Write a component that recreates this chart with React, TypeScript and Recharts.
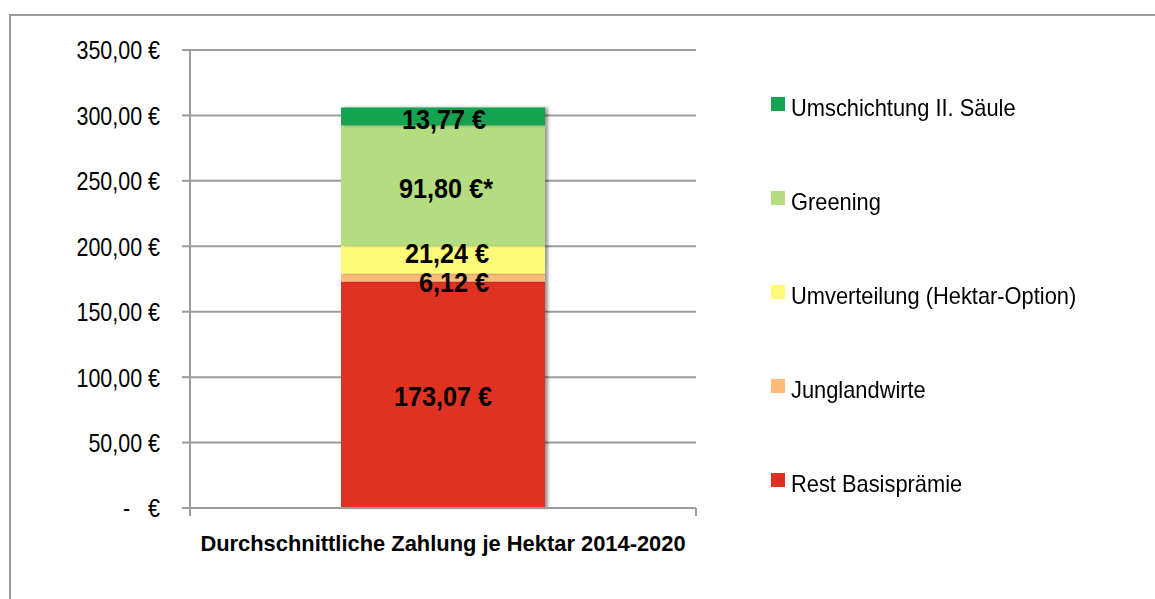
import React from "react";
import {
  BarChart,
  Bar,
  XAxis,
  YAxis,
  CartesianGrid,
  Legend,
  LabelList,
} from "recharts";

// Kategorien, Reihen und Werte
const categories = ["Durchschnittliche Zahlung je Hektar 2014-2020"];
const seriesNames = [
  "Rest Basisprämie",
  "Junglandwirte",
  "Umverteilung (Hektar-Option)",
  "Greening",
  "Umschichtung II. Säule",
];
const seriesValues = [173.07, 6.12, 21.24, 91.8, 13.77];
const seriesColors = ["#e03022", "#fdbb77", "#fefb79", "#b4dc80", "#16a351"];
const labelSuffix = ["", "", "", "*", ""];
const yTicks = [0, 50, 100, 150, 200, 250, 300, 350];

const data = categories.map((name) => {
  const row: Record<string, string | number> = { name };
  seriesNames.forEach((s, i) => {
    row["s" + i] = seriesValues[i];
  });
  return row;
});

const FONT = "'Liberation Sans', Arial, sans-serif";
const GRID = "#9c9c9c";
const X_TICK_MARGIN = 27;

// kleine Verschiebungen der Beschriftungen wie im Original
const labelShiftY = [1, 4, -7, 2, 2];
const labelShiftX = [0, 11, 4, 3, 1];

const euro = (v: number) => v.toFixed(2).replace(".", ",") + " €";
const yTickFormat = (v: number) => (v === 0 ? "-\u00a0\u00a0\u00a0€" : euro(v));

// schmale Schrift (wie Arial Narrow) durch horizontale Stauchung
const YTick = (props: any) => {
  const { x, y, payload } = props;
  return (
    <g transform={`translate(${x},${y}) scale(0.81,1)`}>
      <text x={0} y={0} dy="0.355em" textAnchor="end" fontFamily={FONT} fontSize={26.5} fill="#000">
        {yTickFormat(payload.value)}
      </text>
    </g>
  );
};

const XTick = (props: any) => {
  const { x, y, payload } = props;
  const half = payload.offset ?? 253;
  const axisY = y - X_TICK_MARGIN;
  return (
    <g>
      <line x1={x - half} x2={x - half} y1={axisY} y2={axisY + 8} stroke={GRID} strokeWidth={2} />
      <line x1={x + half} x2={x + half} y1={axisY} y2={axisY + 8} stroke={GRID} strokeWidth={2} />
      <g transform={`translate(${x},${y}) scale(0.995,1)`}>
        <text x={0} y={0} dy="0.71em" textAnchor="middle" fontFamily={FONT} fontWeight="bold" fontSize={22} fill="#000">
          {payload.value}
        </text>
      </g>
    </g>
  );
};

const makeLabel = (i: number) => (props: any) => {
  const { x, y, width, height, value } = props;
  const cx = Number(x) + Number(width) / 2 + labelShiftX[i];
  const cy = Number(y) + Number(height) / 2 + labelShiftY[i];
  return (
    <g transform={`translate(${cx},${cy}) scale(0.885,1)`}>
      <text
        x={0}
        y={0}
        dy="0.355em"
        textAnchor="middle"
        fontFamily={FONT}
        fontWeight="bold"
        fontSize={28.5}
        fill="#000"
      >
        {euro(Number(value)) + labelSuffix[i]}
      </text>
    </g>
  );
};

const LegendBox = () => (
  <div style={{ fontFamily: FONT, fontSize: 24, lineHeight: 1, color: "#000" }}>
    {seriesNames
      .map((n, i) => ({ n, c: seriesColors[i] }))
      .reverse()
      .map((it) => (
        <div key={it.n} style={{ display: "flex", alignItems: "flex-start", height: 94 }}>
          <span
            style={{
              display: "inline-block",
              flex: "none",
              width: 14,
              height: 14,
              marginTop: 1,
              marginRight: 6,
              background: it.c,
            }}
          />
          <span style={{ display: "inline-block", whiteSpace: "nowrap", transform: "scaleX(0.91)", transformOrigin: "left center" }}>
            {it.n}
          </span>
        </div>
      ))}
  </div>
);

const App: React.FC = () => {
  return (
    <div style={{ position: "fixed", left: 0, top: 0, width: 1155, height: 599, overflow: "hidden", background: "#fff" }}>
      <div
        style={{
          position: "absolute",
          left: 9,
          top: 14,
          width: 1200,
          height: 700,
          border: `2px solid ${GRID}`,
        }}
      />
      <div style={{ position: "absolute", left: 0, top: 0 }}>
        <svg width={0} height={0} style={{ position: "absolute" }}>
          <defs>
            <filter id="barShadow" x="-10%" y="-10%" width="130%" height="130%">
              <feDropShadow dx={3} dy={0} stdDeviation={1.5} floodColor="#000" floodOpacity={0.4} />
            </filter>
          </defs>
        </svg>
        <BarChart
          width={1155}
          height={599}
          data={data}
          margin={{ top: 50, right: 459, bottom: 41, left: 0 }}
        >
          <CartesianGrid vertical={false} stroke={GRID} strokeWidth={2} />
          <XAxis
            dataKey="name"
            height={50}
            tickLine={false}
            tickSize={0}
            tickMargin={X_TICK_MARGIN}
            axisLine={{ stroke: GRID, strokeWidth: 2 }}
            tick={<XTick />}
          />
          <YAxis
            width={190}
            domain={[0, 350]}
            ticks={yTicks}
            tickSize={8}
            tickMargin={22}
            axisLine={{ stroke: GRID, strokeWidth: 2 }}
            tickLine={{ stroke: GRID, strokeWidth: 2 }}
            tick={<YTick />}
          />
          <Legend
            layout="horizontal"
            align="center"
            verticalAlign="middle"
            wrapperStyle={{ left: 771, top: 96, width: 380 }}
            content={() => <LegendBox />}
          />
          {seriesNames.map((s, i) => (
            <Bar
              key={s}
              dataKey={"s" + i}
              name={s}
              stackId="a"
              fill={seriesColors[i]}
              barSize={204}
              filter="url(#barShadow)"
              isAnimationActive={false}
            >
              <LabelList dataKey={"s" + i} content={makeLabel(i)} />
            </Bar>
          ))}
        </BarChart>
      </div>
    </div>
  );
};

export default App;
